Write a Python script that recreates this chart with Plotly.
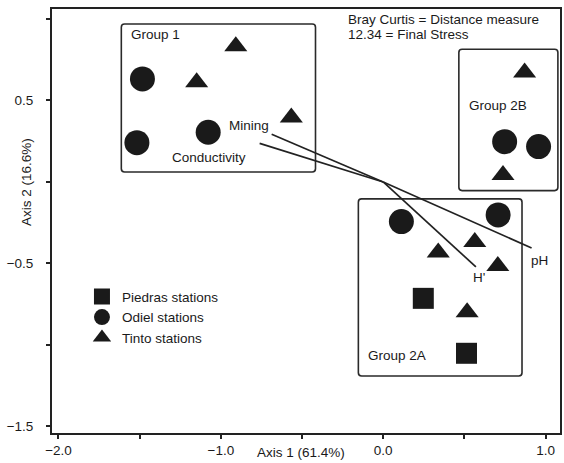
import plotly.graph_objects as go

# ---------------- data ----------------
piedras_x = [0.247, 0.513]
piedras_y = [-0.714, -1.051]

odiel_x = [-1.483, -1.517, -1.078, 0.748, 0.957, 0.112, 0.708]
odiel_y = [0.632, 0.241, 0.305, 0.247, 0.217, -0.243, -0.202]

tinto_x = [-0.908, -1.149, -0.566, 0.871, 0.738, 0.564, 0.339, 0.706, 0.517]
tinto_y = [0.832, 0.611, 0.396, 0.672, 0.042, -0.369, -0.432, -0.516, -0.800]

vector_names = ["Mining", "Conductivity", "pH", "H'"]
vector_x = [-0.687, -0.761, 0.914, 0.571]
vector_y = [0.293, 0.237, -0.405, -0.521]

group_names = ["Group 1", "Group 2B", "Group 2A"]
group_x0 = [-1.613, 0.466, -0.153]
group_x1 = [-0.417, 1.076, 0.855]
group_y0 = [0.061, -0.053, -1.190]
group_y1 = [0.969, 0.814, -0.104]

x_tickvals = [-2.0, -1.5, -1.0, -0.5, 0.0, 0.5, 1.0]
x_ticktext = ["\u22122.0", "", "\u22121.0", "", "0.0", "", "1.0"]
y_tickvals = [1.0, 0.5, 0.0, -0.5, -1.0, -1.5]
y_ticktext = ["", "0.5", "", "\u22120.5", "", "\u22121.5"]

stats_lines = ["Bray Curtis = Distance measure", "12.34 = Final Stress"]
x_title = "Axis 1 (61.4%)"
y_title = "Axis 2 (16.6%)"

# ---------------- styling ----------------
FONT = "Liberation Sans, Arial, sans-serif"
INK = "#1a1a1a"
FS = 13.5
CORNER = 0.02  # rounded-corner radius of group boxes, in axis units

fig = go.Figure()

# environmental vectors
for name, vx, vy in zip(vector_names, vector_x, vector_y):
    fig.add_trace(go.Scatter(x=[0, vx], y=[0, vy], mode="lines",
                             line=dict(color="#222222", width=1.7),
                             showlegend=False, hoverinfo="skip"))

fig.add_trace(go.Scatter(x=piedras_x, y=piedras_y, mode="markers", name="Piedras stations",
                         marker=dict(symbol="square", size=21, color=INK)))
fig.add_trace(go.Scatter(x=odiel_x, y=odiel_y, mode="markers", name="Odiel stations",
                         marker=dict(symbol="circle", size=25, color=INK)))
fig.add_trace(go.Scatter(x=tinto_x, y=tinto_y, mode="markers", name="Tinto stations",
                         marker=dict(symbol="triangle-up", size=20, color=INK)))


def rounded_box(x0, x1, y0, y1, r):
    return (f"M {x0 + r},{y0} L {x1 - r},{y0} Q {x1},{y0} {x1},{y0 + r} "
            f"L {x1},{y1 - r} Q {x1},{y1} {x1 - r},{y1} "
            f"L {x0 + r},{y1} Q {x0},{y1} {x0},{y1 - r} "
            f"L {x0},{y0 + r} Q {x0},{y0} {x0 + r},{y0} Z")


# group boxes and labels
for name, x0, x1, y0, y1 in zip(group_names, group_x0, group_x1, group_y0, group_y1):
    fig.add_shape(type="path", path=rounded_box(x0, x1, y0, y1, CORNER),
                  xref="x", yref="y", line=dict(color="#2a2a2a", width=1.6),
                  layer="below")

label_pos = {"Group 1": (0.05, -0.067), "Group 2B": (0.05, -0.342), "Group 2A": (0.05, 0.123)}
for name, x0, x1, y0, y1 in zip(group_names, group_x0, group_x1, group_y0, group_y1):
    dx, dy = label_pos[name]
    ref_y = y1 if name != "Group 2A" else y0
    fig.add_annotation(x=x0 + dx, y=ref_y + dy, text=name, showarrow=False,
                       xanchor="left", yanchor="middle",
                       font=dict(family=FONT, size=FS, color=INK))

# vector labels
vec_offsets = {"Mining": ("right", -1, 9), "Conductivity": ("right", -12, -14),
               "pH": ("center", 8, -13), "H'": ("center", 3, -11)}
for name, vx, vy in zip(vector_names, vector_x, vector_y):
    anc, xs, ys = vec_offsets[name]
    fig.add_annotation(x=vx, y=vy, text=name, showarrow=False, xanchor=anc,
                       yanchor="middle", xshift=xs, yshift=ys,
                       font=dict(family=FONT, size=FS, color=INK))

# stress / distance text
for i, line in enumerate(stats_lines):
    fig.add_annotation(x=-0.227, y=0.997 - 0.09 * i, text=line, showarrow=False,
                       xanchor="left", yanchor="middle",
                       font=dict(family=FONT, size=FS, color=INK))

# axis titles
fig.add_annotation(xref="paper", yref="paper", x=0.491, y=-0.047, text=x_title,
                   showarrow=False, xanchor="center", yanchor="middle",
                   font=dict(family=FONT, size=FS, color=INK))
fig.add_annotation(xref="paper", yref="paper", x=-0.049, y=0.592, text=y_title,
                   showarrow=False, xanchor="center", yanchor="middle", textangle=-90,
                   font=dict(family=FONT, size=FS, color=INK))

axis_common = dict(showgrid=False, zeroline=False, showline=True, mirror=True,
                   linecolor="#222222", linewidth=2, ticks="outside", ticklen=4,
                   tickwidth=1.5, tickcolor="#222222",
                   tickfont=dict(family=FONT, size=FS, color=INK))

fig.update_xaxes(range=[-2.04, 1.089], tickvals=x_tickvals, ticktext=x_ticktext,
                 **axis_common)
fig.update_yaxes(range=[-1.54, 1.061], tickvals=y_tickvals, ticktext=y_ticktext,
                 ticklabelstandoff=10, **axis_common)

fig.update_layout(
    width=564, height=463,
    margin=dict(l=52, r=2, t=9, b=30),
    paper_bgcolor="white", plot_bgcolor="white",
    font=dict(family=FONT, size=FS, color=INK),
    showlegend=True,
    legend=dict(x=0.059, y=0.358, xanchor="left", yanchor="top",
                bgcolor="rgba(0,0,0,0)", font=dict(family=FONT, size=FS, color=INK),
                itemwidth=30, tracegroupgap=0),
)

fig.write_html("out.html", config={"displayModeBar": False},
               post_script="document.body.style.margin='0';document.body.style.padding='0';")
